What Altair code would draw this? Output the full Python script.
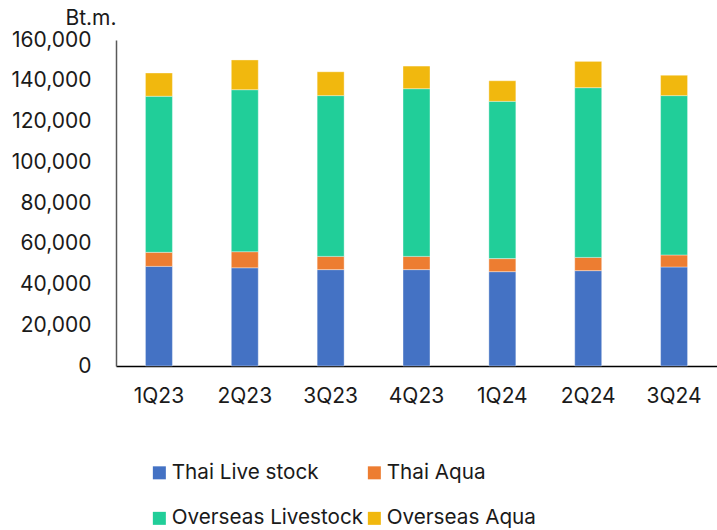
import altair as alt
import pandas as pd

quarters = ["1Q23", "2Q23", "3Q23", "4Q23", "1Q24", "2Q24", "3Q24"]
series = ["Thai Live stock", "Thai Aqua", "Overseas Livestock", "Overseas Aqua"]
legend_order = ["Thai Live stock", "Overseas Livestock", "Thai Aqua", "Overseas Aqua"]
thai_livestock = [48900, 48200, 47300, 47300, 46300, 46800, 48600]
thai_aqua = [6900, 7900, 6500, 6500, 6400, 6500, 5900]
overseas_livestock = [76600, 79500, 78900, 82300, 77200, 83300, 78200]
overseas_aqua = [11400, 14600, 11700, 11100, 10100, 12900, 10000]
colors = ["#4472C4", "#ED7D31", "#21CE99", "#F1B80E"]

rows = []
for si, (name, vals) in enumerate(zip(series, [thai_livestock, thai_aqua, overseas_livestock, overseas_aqua])):
    for q, v in zip(quarters, vals):
        rows.append({"quarter": q, "series": name, "value": v, "idx": si})
df = pd.DataFrame(rows)

FONT = "Inter"
FS = 21

chart = alt.Chart(df).mark_bar(stroke="white", strokeWidth=0.6, strokeOpacity=0.6).encode(
    x=alt.X("quarter:N", sort=quarters,
            scale=alt.Scale(paddingInner=0.686, paddingOuter=0.343),
            axis=alt.Axis(title=None, labelAngle=0, labelFontSize=FS, labelFont=FONT,
                          labelColor="#1a1a1a", labelPadding=19, ticks=False,
                          domainColor="#000000", domainWidth=1.5)),
    y=alt.Y("value:Q", stack="zero",
            scale=alt.Scale(domain=[0, 160000], nice=False),
            axis=alt.Axis(title="Bt.m.", titleAngle=0, titleFontSize=FS, titleFont=FONT,
                          titleFontWeight="normal", titleColor="#1a1a1a",
                          titleAnchor="end", titleAlign="right", titleBaseline="bottom",
                          titleX=0, titleY=-12,
                          values=list(range(0, 160001, 20000)), format=",.0f",
                          labelFontSize=FS, labelFont=FONT, labelColor="#1a1a1a",
                          labelPadding=25, ticks=False, grid=False,
                          domainColor="#595959", domainWidth=1.5)),
    color=alt.Color("series:N", sort=series,
                    scale=alt.Scale(domain=series, range=colors),
                    legend=alt.Legend(title=None, orient="none", legendX=33, legendY=422,
                                      values=legend_order,
                                      columns=2, columnPadding=0, rowPadding=24,
                                      symbolType="square", symbolSize=169,
                                      symbolStrokeWidth=0, labelFontSize=20.7,
                                      labelFont=FONT, labelColor="#1a1a1a",
                                      labelOffset=2, labelLimit=400)),
    order=alt.Order("idx:Q", sort="ascending"),
).properties(
    width=601, height=326,
    autosize=alt.AutoSizeParams(type="none"),
    padding={"left": 116, "top": 40, "right": 0, "bottom": 164},
).configure_view(stroke=None)

chart.save("out.html", embed_options={"renderer": "svg", "actions": False})
